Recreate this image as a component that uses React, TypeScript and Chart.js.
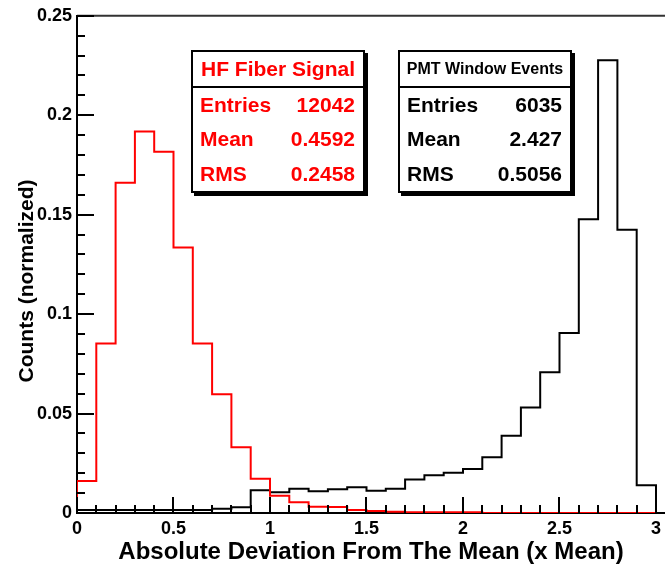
import React, { useEffect, useRef } from "react";
import { Chart, registerables } from "chart.js";

Chart.register(...registerables);

// ---- data ----
const binEdges = [
  0, 0.1, 0.2, 0.3, 0.4, 0.5, 0.6, 0.7, 0.8, 0.9,
  1.0, 1.1, 1.2, 1.3, 1.4, 1.5, 1.6, 1.7, 1.8, 1.9,
  2.0, 2.1, 2.2, 2.3, 2.4, 2.5, 2.6, 2.7, 2.8, 2.9, 3.0,
];

const hfFiberSignal = [
  0.0161, 0.0852, 0.166, 0.1918, 0.1817, 0.1335, 0.0852, 0.0597, 0.033, 0.0172,
  0.0087, 0.0054, 0.0032, 0.003, 0.0015, 0.001, 0.0006, 0.0004, 0.0004, 0.0004,
  0.0004, 0, 0, 0, 0, 0, 0, 0, 0, 0,
];

const pmtWindowEvents = [
  0.0015, 0.0015, 0.0015, 0.0015, 0.0015, 0.0015, 0.0015, 0.0021, 0.0029, 0.0114,
  0.0104, 0.0122, 0.0109, 0.0119, 0.013, 0.0112, 0.0122, 0.0169, 0.019, 0.0202,
  0.0221, 0.028, 0.0388, 0.0531, 0.0708, 0.0905, 0.1477, 0.2277, 0.1424, 0.0139,
];

const xTickLabels = ["0", "0.5", "1", "1.5", "2", "2.5", "3"];
const yTickLabels = ["0", "0.05", "0.1", "0.15", "0.2", "0.25"];

const statRows = ["Entries", "Mean", "RMS"];
const hfStats = ["12042", "0.4592", "0.2458"];
const pmtStats = ["6035", "2.427", "0.5056"];

const xTitle = "Absolute Deviation From The Mean (x Mean)";
const yTitle = "Counts (normalized)";
const hfTitle = "HF Fiber Signal";
const pmtTitle = "PMT Window Events";

// ---- config helpers ----
const FONT = "'Liberation Sans', Arial, Helvetica, sans-serif";
const X_MIN = 0;
const X_MAX = 3.0466; // frame continues slightly past 3 to the picture edge
const Y_MIN = 0;
const Y_MAX = 0.25;
const Y_MINOR_STEP = 0.01;

function toSteps(values: number[]) {
  const pts: { x: number; y: number }[] = [{ x: binEdges[0], y: 0 }];
  values.forEach((v, i) => pts.push({ x: binEdges[i], y: v }));
  const last = binEdges[binEdges.length - 1];
  pts.push({ x: last, y: values[values.length - 1] });
  pts.push({ x: last, y: 0 });
  return pts;
}

function labelFor(v: number, labels: string[]) {
  const hit = labels.find((l) => Math.abs(parseFloat(l) - v) < 1e-9);
  return hit ?? "";
}

const frameTicksPlugin = {
  id: "frameTicks",
  afterDatasetsDraw(chart: any) {
    const { ctx, chartArea, scales } = chart;
    const { left, right, top, bottom } = chartArea;
    const xs = scales.x;
    const ys = scales.y;
    ctx.save();
    // top frame line
    ctx.strokeStyle = "#333";
    ctx.lineWidth = 2;
    ctx.beginPath();
    ctx.moveTo(left, top);
    ctx.lineTo(right, top);
    ctx.stroke();
    // inner tick marks
    ctx.strokeStyle = "#000";
    ctx.lineWidth = 2;
    ctx.beginPath();
    binEdges.forEach((v, i) => {
      const px = Math.round(xs.getPixelForValue(v));
      const len = i % 5 === 0 ? 16 : 8;
      ctx.moveTo(px, bottom);
      ctx.lineTo(px, bottom - len);
    });
    const nY = Math.round((Y_MAX - Y_MIN) / Y_MINOR_STEP);
    for (let i = 0; i <= nY; i++) {
      const py = Math.round(ys.getPixelForValue(Y_MIN + i * Y_MINOR_STEP));
      const len = i % 5 === 0 ? 17 : 8;
      ctx.moveTo(left, py);
      ctx.lineTo(left + len, py);
    }
    ctx.stroke();
    ctx.restore();
  },
};

function StatBox(props: {
  left: number;
  title: string;
  titleSize: number;
  color: string;
  values: string[];
}) {
  const { left, title, titleSize, color, values } = props;
  return (
    <div
      style={{
        position: "absolute",
        left,
        top: 50,
        width: 174,
        height: 143,
        boxSizing: "border-box",
        border: "2px solid #000",
        boxShadow: "3px 3px 0 #000",
        background: "#fff",
        color,
        fontFamily: FONT,
        fontWeight: "bold",
      }}
    >
      <div
        style={{
          height: 34,
          borderBottom: "2px solid #000",
          display: "flex",
          alignItems: "center",
          justifyContent: "center",
          fontSize: titleSize,
          whiteSpace: "nowrap",
        }}
      >
        {title}
      </div>
      {statRows.map((r, i) => (
        <div
          key={r}
          style={{
            height: 34.33,
            display: "flex",
            alignItems: "center",
            justifyContent: "space-between",
            padding: "0 8px 0 7px",
            fontSize: 21,
            whiteSpace: "nowrap",
          }}
        >
          <span>{r}</span>
          <span>{values[i]}</span>
        </div>
      ))}
    </div>
  );
}

export default function App() {
  const canvasRef = useRef<HTMLCanvasElement>(null);

  useEffect(() => {
    if (!canvasRef.current) return;
    const tickFont = { family: FONT, size: 18, weight: "bold" as const };
    const chart = new Chart(canvasRef.current, {
      type: "line",
      data: {
        datasets: [
          {
            label: hfTitle,
            data: toSteps(hfFiberSignal),
            borderColor: "#ff0000",
            borderWidth: 2,
            stepped: "before",
            pointRadius: 0,
            fill: false,
          },
          {
            label: pmtTitle,
            data: toSteps(pmtWindowEvents),
            borderColor: "#000000",
            borderWidth: 2,
            stepped: "before",
            pointRadius: 0,
            fill: false,
          },
        ],
      },
      options: {
        animation: false,
        responsive: true,
        maintainAspectRatio: false,
        parsing: false,
        layout: { padding: { top: 15, left: 0, right: 0, bottom: 0 } },
        plugins: {
          legend: { display: false },
          tooltip: { enabled: false },
        },
        scales: {
          x: {
            type: "linear",
            min: X_MIN,
            max: X_MAX,
            afterBuildTicks: (s: any) => {
              s.ticks = binEdges.map((v) => ({ value: v }));
            },
            afterFit: (s: any) => {
              s.height = 56;
            },
            grid: { display: false, drawTicks: false },
            border: { display: true, color: "#000", width: 2 },
            ticks: {
              autoSkip: false,
              maxRotation: 0,
              padding: 5,
              color: "#000",
              font: tickFont,
              callback: (v: any) => labelFor(Number(v), xTickLabels),
            },
            title: {
              display: true,
              text: xTitle,
              color: "#000",
              font: { family: FONT, size: 24, weight: "bold" },
              padding: { top: 0, bottom: 2 },
            },
          },
          y: {
            type: "linear",
            min: Y_MIN,
            max: Y_MAX,
            afterBuildTicks: (s: any) => {
              s.ticks = yTickLabels.map((l) => ({ value: parseFloat(l) }));
            },
            afterFit: (s: any) => {
              s.width = 77;
            },
            grid: { display: false, drawTicks: false },
            border: { display: true, color: "#000", width: 2 },
            ticks: {
              autoSkip: false,
              padding: 5,
              color: "#000",
              font: tickFont,
              callback: (v: any) => labelFor(Number(v), yTickLabels),
            },
          },
        },
      } as any,
      plugins: [frameTicksPlugin],
    });
    return () => chart.destroy();
  }, []);

  return (
    <div
      style={{
        position: "absolute",
        left: 0,
        top: 0,
        width: 666,
        height: 569,
        background: "#fff",
        overflow: "hidden",
      }}
    >
      <div style={{ position: "absolute", left: 0, top: 0, width: 666, height: 569 }}>
        <canvas ref={canvasRef} />
      </div>
      <div
        style={{
          position: "absolute",
          left: 26 - 150,
          top: 281 - 12,
          width: 300,
          height: 24,
          lineHeight: "24px",
          textAlign: "center",
          transform: "rotate(-90deg)",
          fontFamily: FONT,
          fontWeight: "bold",
          fontSize: 21,
          color: "#000",
          whiteSpace: "nowrap",
        }}
      >
        {yTitle}
      </div>
      <StatBox left={191} title={hfTitle} titleSize={21} color="#ff0000" values={hfStats} />
      <StatBox left={398} title={pmtTitle} titleSize={16} color="#000" values={pmtStats} />
    </div>
  );
}
